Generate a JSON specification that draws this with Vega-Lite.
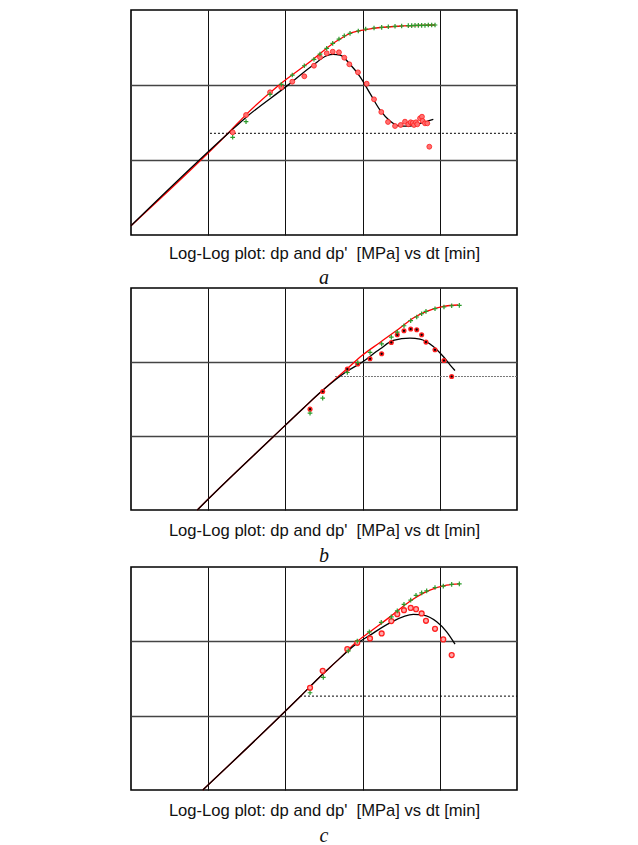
{
  "$schema": "https://vega.github.io/schema/vega-lite/v6.json",
  "padding": {"left": 127, "top": 9, "right": 5, "bottom": 2},
  "background": "white",
  "bounds": "flush",
  "spacing": 53,
  "config": {
    "view": {"stroke": "#000", "strokeWidth": 1.6},
    "axis": {"labels": false, "ticks": false, "domain": false, "grid": true, "gridColor": "#111", "gridWidth": 1,
      "titleFont": "Liberation Sans", "titleFontSize": 16.6, "titleFontWeight": "normal", "titleColor": "#111", "titlePadding": 11},
    "axisY": {"gridColor": "#444", "gridWidth": 1.3},
    "title": {"font": "Liberation Serif", "fontStyle": "italic", "fontSize": 20, "fontWeight": "normal", "color": "#111", "orient": "bottom", "offset": 4}
  },
  "datasets": {
    "a_red_line": [
      {"log_dt": 0, "log_dp": 0.124}, {"log_dt": 1.282, "log_dp": 1.383}, {"log_dt": 1.5, "log_dp": 1.615}, {"log_dt": 1.93, "log_dp": 2.01},
      {"log_dt": 2.361, "log_dp": 2.343}, {"log_dt": 2.62, "log_dp": 2.556}, {"log_dt": 2.707, "log_dp": 2.613}, {"log_dt": 2.837, "log_dp": 2.689},
      {"log_dt": 2.944, "log_dp": 2.72}, {"log_dt": 3.139, "log_dp": 2.756}, {"log_dt": 3.527, "log_dp": 2.787}, {"log_dt": 3.938, "log_dp": 2.8}
    ],
    "a_black_line": [
      {"log_dt": 0, "log_dp": 0.124}, {"log_dt": 1.282, "log_dp": 1.377}, {"log_dt": 1.5, "log_dp": 1.577}, {"log_dt": 2.004, "log_dp": 1.975},
      {"log_dt": 2.361, "log_dp": 2.267}, {"log_dt": 2.535, "log_dp": 2.39}, {"log_dt": 2.62, "log_dp": 2.409}, {"log_dt": 2.707, "log_dp": 2.4},
      {"log_dt": 2.837, "log_dp": 2.276}, {"log_dt": 2.966, "log_dp": 2.111}, {"log_dt": 3.096, "log_dp": 1.889}, {"log_dt": 3.225, "log_dp": 1.667},
      {"log_dt": 3.355, "log_dp": 1.52}, {"log_dt": 3.484, "log_dp": 1.453}, {"log_dt": 3.614, "log_dp": 1.453}, {"log_dt": 3.744, "log_dp": 1.489},
      {"log_dt": 3.916, "log_dp": 1.543}
    ],
    "a_dp": [
      {"log_dt": 1.317, "log_dp": 1.303}, {"log_dt": 1.49, "log_dp": 1.511}, {"log_dt": 1.801, "log_dp": 1.876}, {"log_dt": 1.947, "log_dp": 2.009},
      {"log_dt": 2.089, "log_dp": 2.133}, {"log_dt": 2.245, "log_dp": 2.257}, {"log_dt": 2.37, "log_dp": 2.343}, {"log_dt": 2.448, "log_dp": 2.413},
      {"log_dt": 2.535, "log_dp": 2.489}, {"log_dt": 2.613, "log_dp": 2.556}, {"log_dt": 2.694, "log_dp": 2.613}, {"log_dt": 2.763, "log_dp": 2.657},
      {"log_dt": 2.837, "log_dp": 2.689}, {"log_dt": 2.944, "log_dp": 2.72}, {"log_dt": 3.04, "log_dp": 2.747}, {"log_dt": 3.148, "log_dp": 2.76},
      {"log_dt": 3.247, "log_dp": 2.769}, {"log_dt": 3.333, "log_dp": 2.777}, {"log_dt": 3.42, "log_dp": 2.783}, {"log_dt": 3.506, "log_dp": 2.787},
      {"log_dt": 3.592, "log_dp": 2.791}, {"log_dt": 3.636, "log_dp": 2.791}, {"log_dt": 3.679, "log_dp": 2.796}, {"log_dt": 3.722, "log_dp": 2.796},
      {"log_dt": 3.765, "log_dp": 2.796}, {"log_dt": 3.808, "log_dp": 2.796}, {"log_dt": 3.851, "log_dp": 2.8}, {"log_dt": 3.895, "log_dp": 2.8},
      {"log_dt": 3.938, "log_dp": 2.8}
    ],
    "a_deriv": [
      {"log_dt": 1.317, "log_dp": 1.369}, {"log_dt": 1.49, "log_dp": 1.6}, {"log_dt": 1.801, "log_dp": 1.903}, {"log_dt": 1.947, "log_dp": 1.969},
      {"log_dt": 2.089, "log_dp": 2.044}, {"log_dt": 2.245, "log_dp": 2.116}, {"log_dt": 2.37, "log_dp": 2.257}, {"log_dt": 2.448, "log_dp": 2.369},
      {"log_dt": 2.535, "log_dp": 2.423}, {"log_dt": 2.613, "log_dp": 2.444}, {"log_dt": 2.694, "log_dp": 2.436}, {"log_dt": 2.763, "log_dp": 2.364},
      {"log_dt": 2.828, "log_dp": 2.276}, {"log_dt": 2.94, "log_dp": 2.169}, {"log_dt": 3.053, "log_dp": 2.017}, {"log_dt": 3.148, "log_dp": 1.809},
      {"log_dt": 3.242, "log_dp": 1.64}, {"log_dt": 3.329, "log_dp": 1.507}, {"log_dt": 3.42, "log_dp": 1.453}, {"log_dt": 3.494, "log_dp": 1.467},
      {"log_dt": 3.549, "log_dp": 1.511}, {"log_dt": 3.592, "log_dp": 1.476}, {"log_dt": 3.623, "log_dp": 1.503}, {"log_dt": 3.649, "log_dp": 1.493},
      {"log_dt": 3.666, "log_dp": 1.467}, {"log_dt": 3.692, "log_dp": 1.503}, {"log_dt": 3.709, "log_dp": 1.476}, {"log_dt": 3.744, "log_dp": 1.556},
      {"log_dt": 3.769, "log_dp": 1.577}, {"log_dt": 3.778, "log_dp": 1.52}, {"log_dt": 3.808, "log_dp": 1.489}, {"log_dt": 3.838, "log_dp": 1.489},
      {"log_dt": 3.864, "log_dp": 1.177}
    ],
    "a_level": [{"log_dt": 1.023, "log_dp": 1.356}, {"log_dt": 5, "log_dp": 1.356}],
    "b_red_line": [
      {"log_dt": 0.859, "log_dp": 0}, {"log_dt": 0.988, "log_dp": 0.135}, {"log_dt": 1.843, "log_dp": 0.99}, {"log_dt": 2.232, "log_dp": 1.376},
      {"log_dt": 2.491, "log_dp": 1.624}, {"log_dt": 2.794, "log_dp": 1.904}, {"log_dt": 2.988, "log_dp": 2.084}, {"log_dt": 3.225, "log_dp": 2.264},
      {"log_dt": 3.484, "log_dp": 2.459}, {"log_dt": 3.657, "log_dp": 2.594}, {"log_dt": 3.83, "log_dp": 2.683}, {"log_dt": 4.045, "log_dp": 2.751},
      {"log_dt": 4.24, "log_dp": 2.77}
    ],
    "b_black_line": [
      {"log_dt": 0.859, "log_dp": 0}, {"log_dt": 0.988, "log_dp": 0.135}, {"log_dt": 1.843, "log_dp": 0.99}, {"log_dt": 2.232, "log_dp": 1.376},
      {"log_dt": 2.491, "log_dp": 1.624}, {"log_dt": 2.794, "log_dp": 1.871}, {"log_dt": 2.988, "log_dp": 1.993}, {"log_dt": 3.225, "log_dp": 2.175},
      {"log_dt": 3.398, "log_dp": 2.291}, {"log_dt": 3.614, "log_dp": 2.323}, {"log_dt": 3.744, "log_dp": 2.31}, {"log_dt": 3.916, "log_dp": 2.21},
      {"log_dt": 4.045, "log_dp": 2.074}, {"log_dt": 4.132, "log_dp": 1.962}, {"log_dt": 4.197, "log_dp": 1.885}
    ],
    "b_dp": [
      {"log_dt": 2.319, "log_dp": 1.309}, {"log_dt": 2.483, "log_dp": 1.512}, {"log_dt": 2.802, "log_dp": 1.858}, {"log_dt": 2.937, "log_dp": 1.993},
      {"log_dt": 3.096, "log_dp": 2.129}, {"log_dt": 3.247, "log_dp": 2.246}, {"log_dt": 3.372, "log_dp": 2.337}, {"log_dt": 3.449, "log_dp": 2.405},
      {"log_dt": 3.536, "log_dp": 2.49}, {"log_dt": 3.623, "log_dp": 2.558}, {"log_dt": 3.701, "log_dp": 2.608}, {"log_dt": 3.765, "log_dp": 2.652},
      {"log_dt": 3.821, "log_dp": 2.683}, {"log_dt": 3.938, "log_dp": 2.72}, {"log_dt": 4.054, "log_dp": 2.743}, {"log_dt": 4.154, "log_dp": 2.76},
      {"log_dt": 4.253, "log_dp": 2.765}
    ],
    "b_deriv": [
      {"log_dt": 2.319, "log_dp": 1.363}, {"log_dt": 2.483, "log_dp": 1.601}, {"log_dt": 2.802, "log_dp": 1.904}, {"log_dt": 2.937, "log_dp": 1.972},
      {"log_dt": 3.096, "log_dp": 2.043}, {"log_dt": 3.247, "log_dp": 2.111}, {"log_dt": 3.372, "log_dp": 2.264}, {"log_dt": 3.449, "log_dp": 2.368},
      {"log_dt": 3.536, "log_dp": 2.422}, {"log_dt": 3.623, "log_dp": 2.445}, {"log_dt": 3.701, "log_dp": 2.436}, {"log_dt": 3.765, "log_dp": 2.368},
      {"log_dt": 3.821, "log_dp": 2.269}, {"log_dt": 3.938, "log_dp": 2.165}, {"log_dt": 4.054, "log_dp": 2.02}, {"log_dt": 4.154, "log_dp": 1.804}
    ],
    "b_level": [{"log_dt": 2.642, "log_dp": 1.804}, {"log_dt": 5, "log_dp": 1.804}],
    "c_red_line": [
      {"log_dt": 0.929, "log_dp": 0}, {"log_dt": 2.189, "log_dp": 1.254}, {"log_dt": 2.448, "log_dp": 1.523}, {"log_dt": 2.707, "log_dp": 1.774},
      {"log_dt": 2.923, "log_dp": 1.993}, {"log_dt": 3.096, "log_dp": 2.128}, {"log_dt": 3.355, "log_dp": 2.329}, {"log_dt": 3.614, "log_dp": 2.54},
      {"log_dt": 3.873, "log_dp": 2.688}, {"log_dt": 4.089, "log_dp": 2.755}, {"log_dt": 4.253, "log_dp": 2.773}
    ],
    "c_black_line": [
      {"log_dt": 0.929, "log_dp": 0}, {"log_dt": 2.189, "log_dp": 1.254}, {"log_dt": 2.448, "log_dp": 1.523}, {"log_dt": 2.707, "log_dp": 1.774},
      {"log_dt": 2.88, "log_dp": 1.935}, {"log_dt": 3.096, "log_dp": 2.083}, {"log_dt": 3.355, "log_dp": 2.249}, {"log_dt": 3.657, "log_dp": 2.362},
      {"log_dt": 3.786, "log_dp": 2.352}, {"log_dt": 3.96, "log_dp": 2.262}, {"log_dt": 4.089, "log_dp": 2.128}, {"log_dt": 4.197, "log_dp": 1.962}
    ],
    "c_dp": [
      {"log_dt": 2.319, "log_dp": 1.308}, {"log_dt": 2.491, "log_dp": 1.515}, {"log_dt": 2.815, "log_dp": 1.872}, {"log_dt": 2.931, "log_dp": 2.003},
      {"log_dt": 3.087, "log_dp": 2.128}, {"log_dt": 3.242, "log_dp": 2.254}, {"log_dt": 3.372, "log_dp": 2.329}, {"log_dt": 3.449, "log_dp": 2.41},
      {"log_dt": 3.536, "log_dp": 2.496}, {"log_dt": 3.623, "log_dp": 2.554}, {"log_dt": 3.692, "log_dp": 2.617}, {"log_dt": 3.765, "log_dp": 2.652},
      {"log_dt": 3.83, "log_dp": 2.679}, {"log_dt": 3.938, "log_dp": 2.724}, {"log_dt": 4.045, "log_dp": 2.742}, {"log_dt": 4.154, "log_dp": 2.765},
      {"log_dt": 4.253, "log_dp": 2.773}
    ],
    "c_deriv": [
      {"log_dt": 2.319, "log_dp": 1.375}, {"log_dt": 2.483, "log_dp": 1.603}, {"log_dt": 2.802, "log_dp": 1.895}, {"log_dt": 2.931, "log_dp": 1.98},
      {"log_dt": 3.096, "log_dp": 2.039}, {"log_dt": 3.247, "log_dp": 2.106}, {"log_dt": 3.372, "log_dp": 2.272}, {"log_dt": 3.449, "log_dp": 2.366},
      {"log_dt": 3.536, "log_dp": 2.419}, {"log_dt": 3.623, "log_dp": 2.45}, {"log_dt": 3.692, "log_dp": 2.433}, {"log_dt": 3.765, "log_dp": 2.375},
      {"log_dt": 3.821, "log_dp": 2.276}, {"log_dt": 3.938, "log_dp": 2.168}, {"log_dt": 4.045, "log_dp": 2.026}, {"log_dt": 4.154, "log_dp": 1.815}
    ],
    "c_level": [{"log_dt": 2.189, "log_dp": 1.263}, {"log_dt": 5, "log_dp": 1.263}]
  },
  "vconcat": [
    {
      "width": 386, "height": 225,
      "title": {"text": "a", "offset": 6},
      "encoding": {
        "x": {"field": "log_dt", "type": "quantitative", "scale": {"domain": [0, 5], "nice": false, "zero": false},
          "axis": {"values": [1, 2, 3, 4], "titlePadding": 10, "title": "Log-Log plot: dp and dp'\u00a0 [MPa] vs dt [min]"}},
        "y": {"field": "log_dp", "type": "quantitative", "scale": {"domain": [0, 3], "nice": false, "zero": false},
          "axis": {"values": [1, 2], "title": null}}
      },
      "layer": [
        {"data": {"name": "a_level"}, "mark": {"type": "line", "color": "#000", "strokeWidth": 1, "strokeDash": [2, 2]}},
        {"data": {"name": "a_red_line"}, "mark": {"type": "line", "color": "#ff0000", "strokeWidth": 1.3, "interpolate": "monotone"}},
        {"data": {"name": "a_black_line"}, "mark": {"type": "line", "color": "#000", "strokeWidth": 1.3, "interpolate": "monotone"}},
        {"data": {"name": "a_deriv"}, "mark": {"type": "point", "shape": "circle", "filled": true, "size": 24, "fill": "#ff7070", "stroke": "#ff1a1a", "strokeWidth": 0.8, "opacity": 1}},
        {"data": {"name": "a_dp"}, "mark": {"type": "point", "shape": "M-1,0L1,0M0,-1L0,1", "filled": false, "size": 22, "stroke": "#2a9a2a", "strokeWidth": 1.2, "opacity": 1}}
      ]
    },
    {
      "bounds": "flush",
      "spacing": 57,
      "vconcat": [
        {
          "width": 386, "height": 222,
          "title": {"text": "b", "offset": 7},
          "encoding": {
            "x": {"field": "log_dt", "type": "quantitative", "scale": {"domain": [0, 5], "nice": false, "zero": false},
              "axis": {"values": [1, 2, 3, 4], "titlePadding": 12, "title": "Log-Log plot: dp and dp'\u00a0 [MPa] vs dt [min]"}},
            "y": {"field": "log_dp", "type": "quantitative", "scale": {"domain": [0, 3], "nice": false, "zero": false},
              "axis": {"values": [1, 2], "title": null}}
          },
          "layer": [
            {"data": {"name": "b_level"}, "mark": {"type": "line", "color": "#777", "strokeWidth": 1.2, "strokeDash": [2, 1]}},
            {"data": {"name": "b_red_line"}, "mark": {"type": "line", "color": "#ff0000", "strokeWidth": 1.3, "interpolate": "monotone"}},
            {"data": {"name": "b_black_line"}, "mark": {"type": "line", "color": "#000", "strokeWidth": 1.3, "interpolate": "monotone"}},
            {"data": {"name": "b_deriv"}, "mark": {"type": "point", "shape": "circle", "filled": true, "size": 26, "fill": "#ff2020", "opacity": 1}},
            {"data": {"name": "b_deriv"}, "mark": {"type": "point", "shape": "circle", "filled": true, "size": 5, "fill": "#000", "opacity": 1}},
            {"data": {"name": "b_dp"}, "mark": {"type": "point", "shape": "M-1,0L1,0M0,-1L0,1", "filled": false, "size": 22, "stroke": "#2a9a2a", "strokeWidth": 1.2, "opacity": 1}}
          ]
        },
        {
          "width": 386, "height": 223,
          "title": {"text": "c", "offset": 7},
          "encoding": {
            "x": {"field": "log_dt", "type": "quantitative", "scale": {"domain": [0, 5], "nice": false, "zero": false},
              "axis": {"values": [1, 2, 3, 4], "titlePadding": 12, "title": "Log-Log plot: dp and dp'\u00a0 [MPa] vs dt [min]"}},
            "y": {"field": "log_dp", "type": "quantitative", "scale": {"domain": [0, 3], "nice": false, "zero": false},
              "axis": {"values": [1, 2], "title": null}}
          },
          "layer": [
            {"data": {"name": "c_level"}, "mark": {"type": "line", "color": "#000", "strokeWidth": 1, "strokeDash": [2, 2]}},
            {"data": {"name": "c_red_line"}, "mark": {"type": "line", "color": "#ff0000", "strokeWidth": 1.3, "interpolate": "monotone"}},
            {"data": {"name": "c_black_line"}, "mark": {"type": "line", "color": "#000", "strokeWidth": 1.3, "interpolate": "monotone"}},
            {"data": {"name": "c_deriv"}, "mark": {"type": "point", "shape": "circle", "filled": true, "size": 24, "fill": "#ffaaaa", "stroke": "#ff2020", "strokeWidth": 1.3, "opacity": 1}},
            {"data": {"name": "c_dp"}, "mark": {"type": "point", "shape": "M-1,0L1,0M0,-1L0,1", "filled": false, "size": 22, "stroke": "#2a9a2a", "strokeWidth": 1.2, "opacity": 1}}
          ]
        }
      ]
    }
  ]
}
